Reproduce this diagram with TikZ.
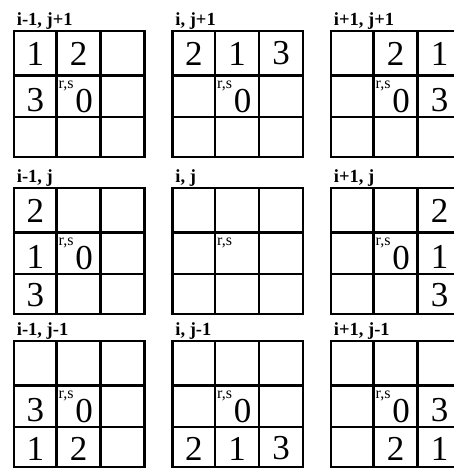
\documentclass[tikz,border=0pt]{standalone}
\usepackage{fontspec}
\setmainfont{Liberation Serif}
\begin{document}
\begin{tikzpicture}[x=1pt,y=-1pt,
  gridline/.style={line width=2.6pt, line cap=rect},
  gtitle/.style={font=\fontsize{18.5}{18.5}\selectfont\bfseries, anchor=base west, inner sep=0pt},
  digit/.style={font=\fontsize{35}{35}\selectfont, inner sep=0pt},
  rslabel/.style={font=\fontsize{16}{16}\selectfont, anchor=north west, inner sep=0pt}]
\path[use as bounding box] (0,0) rectangle (454,468);
\clip (0,0) rectangle (454,468);
\foreach \g/\gx/\gy/\gt/\zero/\cells in {
  a/14/31/{i-1, j+1}/1/{0/0/1,1/0/2,0/1/3},
  b/172.5/31/{i, j+1}/1/{0/0/2,1/0/1,2/0/3},
  c/331/31/{i+1, j+1}/1/{1/0/2,2/0/1,2/1/3},
  d/14/188/{i-1, j}/1/{0/0/2,0/1/1,0/2/3},
  e/172.5/188/{i, j}/0/{},
  f/331/188/{i+1, j}/1/{2/0/2,2/1/1,2/2/3},
  g/14/341/{i-1, j-1}/1/{0/1/3,0/2/1,1/2/2},
  h/172.5/341/{i, j-1}/1/{0/2/2,1/2/1,2/2/3},
  k/331/341/{i+1, j-1}/1/{2/1/3,1/2/2,2/2/1}} {
  \begin{scope}[shift={(\gx,\gy)}]
    \foreach \xx in {0,42.5,86.5,130.5}
      \draw[gridline] (\xx,0) -- (\xx,126);
    \foreach \yy in {0,44.5,86,126}
      \draw[gridline] (0,\yy) -- (130.5,\yy);
    \node[gtitle] (\g-t) at (2.7,-5.5) {\gt};
    \node[rslabel] (\g-rs) at (44.5,49.5) {r,s};
    \ifnum\zero=1
      \node[digit] (\g-z) at (70,70.5) {0};
    \fi
    \foreach \c/\r/\v in \cells {
      \pgfmathsetmacro\mx{{21.25,64.5,108.5}[\c]}
      \pgfmathsetmacro\my{{22.5,69,107.5}[\r]}
      \node[digit] (\g-n\c\r) at (\mx,\my) {\v};
    }
  \end{scope}
}
\end{tikzpicture}
\end{document}
